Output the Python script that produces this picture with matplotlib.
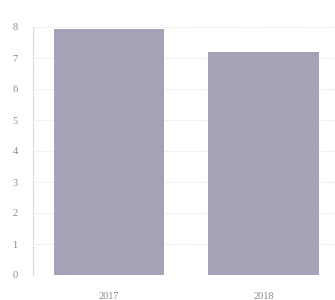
import matplotlib.pyplot as plt

years = ["2017", "2018"]
values = [7.95, 7.18]
y_ticks = [0, 1, 2, 3, 4, 5, 6, 7, 8]

fig = plt.figure(figsize=(3.35, 3.0), dpi=100)
ax = fig.add_axes([33 / 335, 25 / 300, 1 - 33 / 335, 248 / 300])

ax.bar(range(len(years)), values, width=0.714, color="#a8a2b8", zorder=2)

ax.set_ylim(0, 8)
ax.set_xlim(-0.49, 1.46)
ax.set_yticks(y_ticks)
ax.set_xticks(range(len(years)))
ax.set_xticklabels(years)

ax.grid(axis="y", color="#e2e2e2", linestyle=(0, (1, 1.5)), linewidth=0.8, zorder=0)
for s in ["top", "right", "bottom"]:
    ax.spines[s].set_visible(False)
ax.spines["left"].set_color("#d0d0d0")
ax.spines["left"].set_linestyle((0, (1, 1.5)))
ax.spines["left"].set_linewidth(0.8)
ax.tick_params(length=0, labelsize=7.5, labelcolor="#8a8a8a")
ax.tick_params(axis="y", pad=11)
ax.tick_params(axis="x", pad=12)
for lbl in ax.get_xticklabels() + ax.get_yticklabels():
    lbl.set_family("Liberation Serif")

fig.savefig("out.png", dpi=100)
